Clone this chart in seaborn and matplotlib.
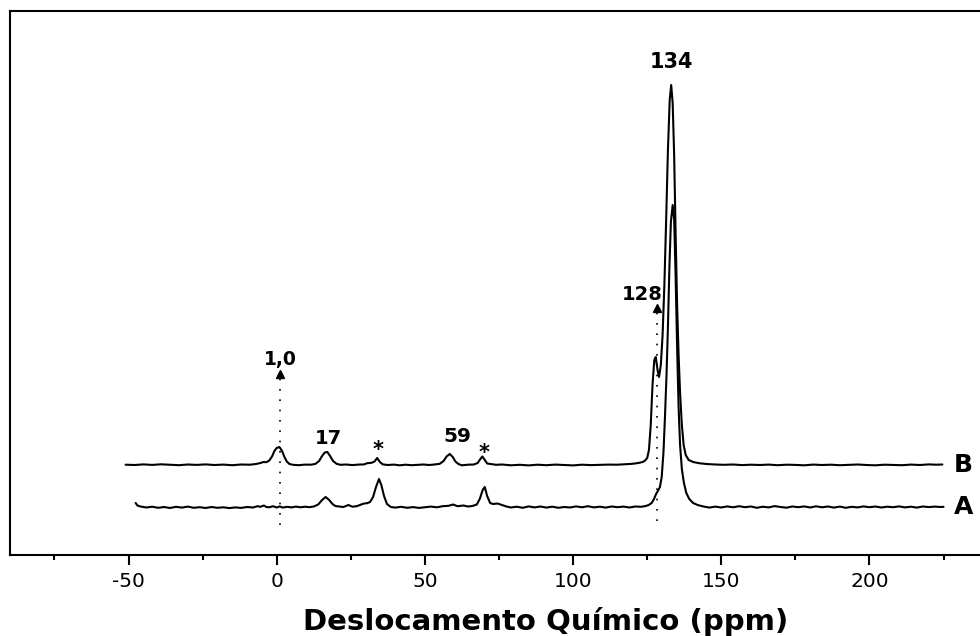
import pandas as pd
import matplotlib
matplotlib.use('Agg')
import matplotlib.pyplot as plt
from matplotlib.ticker import MultipleLocator
import seaborn as sns

# spectrum B (upper trace): chemical shift (ppm) and intensity above its baseline
b_ppm = [-51.0, -48, -45, -42, -39, -36, -33, -30, -27, -24, -21, -18, -15, -12, -9, -7,
         -5.5, -4.5, -3.5, -2.5, -1.5, -0.8, 0.0, 0.9, 1.8, 2.6, 3.4, 4.3, 5.5, 7.5, 9.5,
         11.5, 13.0, 14.3, 15.3, 16.2, 17.1, 18.0, 19.0, 20.2, 21.5, 23.5, 25.5, 27.5, 29.5,
         30.5, 32.0, 33.0, 33.9, 34.8, 35.8, 37.5, 39.5, 41.5, 43.5, 45.5, 47.5, 49.5, 51.5,
         53.5, 55.0, 56.3, 57.3, 58.4, 59.4, 60.3, 61.3, 62.5, 64.5, 66.5, 67.8, 68.7, 69.4,
         70.2, 71.0, 72.5, 74, 76, 79, 82, 85, 88, 91, 94, 97, 100, 103, 106, 109, 112, 115,
         118, 120, 122, 123.5, 124.3, 125.0, 125.6, 126.2, 126.8, 127.4, 127.9, 128.5, 129.0,
         129.6, 130.2, 130.8, 131.4, 132.0, 132.6, 133.1, 133.6, 134.1, 134.6, 135.1, 135.6,
         136.1, 136.7, 137.3, 138.0, 139.0, 140.5, 142.5, 145, 148, 151, 154, 157, 160, 163,
         166, 169, 172, 175, 178, 181, 184, 187, 190, 193, 196, 199, 202, 205, 208, 211, 214,
         217, 220, 222.5, 224.6]
b_int = [0.3, 0.0, 0.6, 0.1, 0.7, 0.2, -0.2, 0.5, 0.1, 0.6, 0.0, 0.4, -0.2, 0.5, 0.3, 1.0,
         2.0, 3.0, 2.8, 4.5, 9, 14, 17, 18, 14, 8, 3.5, 1.0, 0.2, -0.2, 0.4,
         0.3, 1.0, 4, 9, 12.5, 13, 9, 4, 1.2, 0.2, 0.5, -0.1, 0.4, 0.6,
         1.8, 2.2, 3.5, 7, 3, 0.6, 0.0, 0.4, -0.3, 0.3, -0.2, 0.2, 0.5, 0.0,
         0.6, 1.2, 4, 8.5, 11, 8, 3.5, 1.0, -0.3, 0.3, 0.5, 2, 6, 8.5,
         5, 1.5, 0.8, 0.2, 0.5, -0.3, 0.2, -0.4, 0.3, -0.2, 0.4, 0.0, -0.4, 0.3, -0.1, 0.2, 0.4, 0.3,
         0.8, 1.2, 2, 3, 4.5, 7, 15, 40, 80, 105, 108, 95, 88,
         100, 130, 180, 245, 315, 365, 380, 362, 310, 230, 160, 110,
         72, 40, 20, 10, 5, 3, 1.8, 1.0, 0.5, 0.2, 0.5, -0.1, 0.3, 0.0,
         0.4, -0.2, 0.3, 0.1, -0.3, 0.4, 0.0, 0.3, -0.2, 0.2, 0.5, 0.0, -0.3, 0.3, 0.1, -0.2, 0.4,
         0.0, 0.6, 0.3, 0.5]

# spectrum A (lower trace)
a_ppm = [-47.6, -47.0, -46, -44, -42, -40, -38, -36, -34, -32, -30, -28, -26, -24, -22, -20,
         -18, -16, -14, -12, -10, -8, -6.5, -5.5, -4.3, -3.5, -2.5, -1.3, 0.0, 1.0, 2.0, 3.5,
         5.0, 6.5, 8.0, 9.5, 11.0, 12.5, 14.0, 15.3, 16.5, 17.7, 18.8, 19.8, 21.0, 22.5, 24.2,
         25.5, 27.0, 28.5, 29.5, 30.5, 31.5, 32.5, 33.5, 34.5, 35.3, 36.2, 37.2, 38.5, 40, 42,
         44, 46, 48, 50, 52, 54, 56, 58, 59.5, 61, 63, 64.5, 66, 67.5, 68.5, 69.5, 70.2, 71.0,
         72.0, 73.0, 74.5, 76.0, 77.5, 79, 81, 83, 85, 87, 89, 91, 93, 95, 97, 99, 101, 103,
         105, 107, 109, 111, 113, 115, 117, 119, 121, 123, 124.5, 125.5, 126.5, 127.3, 128.0,
         128.6, 129.3, 129.9, 130.5, 131.0, 131.5, 132.0, 132.5, 133.0, 133.6, 134.1, 134.6,
         135.1, 135.6, 136.1, 136.7, 137.4, 138.2, 139.2, 140.5, 142, 144, 146, 148, 150, 152,
         154, 156, 158, 160, 162, 164, 166, 168, 170, 172, 174, 176, 178, 180, 182, 184, 186,
         188, 190, 192, 194, 196, 198, 200, 202, 204, 206, 208, 210, 212, 214, 216, 218, 220,
         222, 224, 225]
a_int = [4, 1.5, 0.5, -0.5, 0.3, -0.8, 0.0, -1.0, 0.2, -0.6, 0.4, -0.8, -0.2, -1.0, 0.0, -0.8,
         -0.3, -1.1, -0.4, -0.9, 0.0, -0.5, 0.8, 0.2, 1.5, 0.0, -0.3, 0.8, -0.5, 0.6, -0.6, 0.2,
         -0.4, 0.4, -0.3, 0.3, -0.2, 0.5, 2.5, 7, 10, 7, 3, 1.0, 0.5, 0.0, 2.0,
         0.3, 0.8, 2.5, 3.5, 3.8, 5, 10, 20, 28, 22, 11, 3, 0.0, -0.6, 0.2,
         -0.8, -0.1, -0.9, -0.2, 0.4, -0.3, 0.8, 1.2, 2.5, 0.8, 1.5, 0.5, 1.0, 2.5, 8, 17, 20, 11,
         4, 3, 3.5, 2.0, 0.5, -0.5, 0.3, -0.8, 0.6, -0.4, 0.5, -0.6, 0.3, -0.8, 0.0, -0.5, 0.6, -0.3,
         0.8, -0.4, 0.3, -0.6, 0.5, -0.2, 0.4, -0.5, 0.5, 0.2, 1.0, 2, 4, 8, 13,
         16, 20, 30, 55, 90, 130, 180, 240, 285, 302, 288, 230,
         160, 100, 62, 38, 24, 14, 8, 4, 2, 0.5, -0.6, 0.4, -0.5, 0.6,
         -0.3, 0.8, -0.2, 0.5, -0.8, 0.3, -0.4, 0.9, 0.0, -0.7, 0.5, -0.2, 0.6, -0.5, 0.7, -0.3, 0.5,
         -0.6, 0.4, -0.8, 0.2, -0.4, 0.6, -0.2, 0.5, -0.5, 0.3, -0.2, 0.6, -0.4, 0.3, -0.6, 0.5, -0.1,
         0.4, 0.0, 0.2]

# peak labels: text, ppm, height
peak_labels = ['134', '128', '1,0', '17', '*', '59', '*']
peak_label_x = [133.1, 123.2, 1.3, 17.5, 34.2, 61.0, 70.1]
peak_label_y = [487, 255, 190, 111, 99, 113, 96]
label_sizes = [15, 14, 13.5, 14, 15, 14.5, 15]

# reference markers (dotted lines with arrow)
ref_ppm = [1.0, 128.3]
ref_bottom = [30, 34]
ref_top = [181, 247]

trace_names = ['B', 'A']
trace_offset = {'B': 90, 'A': 48}

sns.set_style('ticks')
plt.rcParams['font.family'] = ['DejaVu Sans']
plt.rcParams['axes.unicode_minus'] = False
plt.rcParams['text.color'] = 'black'
plt.rcParams['xtick.color'] = 'black'
plt.rcParams['axes.labelcolor'] = 'black'

fig = plt.figure(figsize=(9.8, 6.36), dpi=100)
ax = fig.add_axes([10 / 980, 81 / 636, 978 / 980, 544 / 636])

df_b = pd.DataFrame({'ppm': b_ppm, 'intensity': [v + trace_offset['B'] for v in b_int]})
df_a = pd.DataFrame({'ppm': a_ppm, 'intensity': [v + trace_offset['A'] for v in a_int]})
sns.lineplot(data=df_b, x='ppm', y='intensity', sort=False, estimator=None,
             color='black', linewidth=1.5, ax=ax)
sns.lineplot(data=df_a, x='ppm', y='intensity', sort=False, estimator=None,
             color='black', linewidth=1.5, ax=ax)

for x, y0, y1 in zip(ref_ppm, ref_bottom, ref_top):
    ax.plot([x, x], [y0, y1 - 4], color='black', linewidth=1.2, linestyle=(0, (1, 5.2)))
    ax.plot([x], [y1], marker='^', markersize=5.8, color='black', linestyle='none')

for txt, x, y, s in zip(peak_labels, peak_label_x, peak_label_y, label_sizes):
    ax.text(x, y, txt, ha='center', va='baseline', fontsize=s, fontweight='bold')

for name in trace_names:
    ax.text(231.8, trace_offset[name] - 7, name, ha='center', va='baseline',
            fontsize=18, fontweight='bold')

ax.set_xlim(-90, 240)
ax.set_ylim(0, 544)
ax.set_yticks([])
ax.set_ylabel('')
ax.set_xticks(range(-50, 201, 50))
ax.xaxis.set_minor_locator(MultipleLocator(25))
ax.tick_params(axis='x', which='major', length=7, width=1.5, direction='out',
               labelsize=14.5, pad=5, colors='black')
ax.tick_params(axis='x', which='minor', length=3.6, width=1.5, direction='out')
for side in ['left', 'top', 'bottom', 'right']:
    ax.spines[side].set_linewidth(1.5)
    ax.spines[side].set_color('black')

ax.set_xlabel('Deslocamento Químico (ppm)', fontsize=21, fontweight='bold')
ax.xaxis.set_label_coords(0.548, -0.138)
ax.xaxis.label.set_verticalalignment('baseline')

fig.savefig('out.png', dpi=100)
